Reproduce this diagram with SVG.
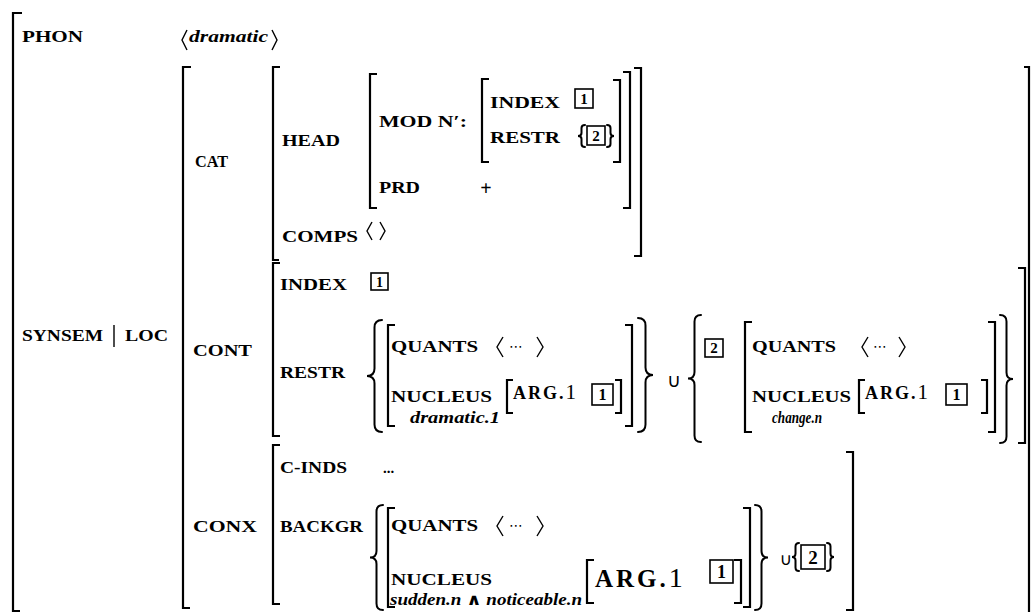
<svg xmlns="http://www.w3.org/2000/svg" width="1031" height="612" viewBox="0 0 1031 612">
<style>
.k{font-family:"Liberation Serif","DejaVu Serif",serif;font-weight:bold;font-size:17px;fill:#000}
.i{font-family:"Liberation Serif","DejaVu Serif",serif;font-weight:bold;font-style:italic;font-size:16px;fill:#000}
.n{font-family:"Liberation Serif","DejaVu Serif",serif;font-weight:bold;fill:#000}
.s{font-family:"DejaVu Sans",sans-serif;fill:#000}
.g{font-family:"Liberation Serif","DejaVu Serif",serif;font-weight:bold;fill:#000}
.b{fill:none;stroke:#000;stroke-width:2.2}
.a{fill:none;stroke:#000;stroke-width:1.4}
.bx{fill:none;stroke:#000;stroke-width:1.6}
.br{fill:none;stroke:#000;stroke-width:2;stroke-linecap:round}
</style>
<rect width="1031" height="612" fill="#fff"/>

<g id="outer">
<path class="b" d="M22,13 H13 V611 H20"/>
<text class="k" x="22" y="42" textLength="61" lengthAdjust="spacingAndGlyphs">PHON</text>
<path class="a" d="M187,30 L182,40 L187,50"/>
<text class="i" x="189" y="42" textLength="79" lengthAdjust="spacingAndGlyphs">dramatic</text>
<path class="a" d="M272,30 L277,40 L272,50"/>
<text class="k" x="22" y="341" textLength="81" lengthAdjust="spacingAndGlyphs">SYNSEM</text>
<path class="a" d="M114,325 V347"/>
<text class="k" x="125" y="341" textLength="43" lengthAdjust="spacingAndGlyphs">LOC</text>
</g>

<g id="loc">
<path class="b" d="M191,67 H183 V608 H190"/>
<path class="b" d="M1024,67 H1029 V612"/>
<text class="k" x="195" y="167" textLength="33" lengthAdjust="spacingAndGlyphs">CAT</text>
<text class="k" x="193" y="356" textLength="59" lengthAdjust="spacingAndGlyphs">CONT</text>
<text class="k" x="193" y="532" textLength="64" lengthAdjust="spacingAndGlyphs">CONX</text>
</g>

<g id="cat">
<path class="b" d="M280,67 H273 V260 H279"/>
<path class="b" d="M634,68 H641 V256 H634"/>
<text class="k" x="282" y="146" textLength="58" lengthAdjust="spacingAndGlyphs">HEAD</text>
<text class="k" x="282" y="242" textLength="76" lengthAdjust="spacingAndGlyphs">COMPS</text>
<path class="a" d="M372,222 L367,231 L372,240"/>
<path class="a" d="M380,222 L385,231 L380,240"/>
</g>

<g id="head">
<path class="b" d="M377,74 H370 V208 H377"/>
<path class="b" d="M623,72 H630 V208 H623"/>
<text class="k" x="379" y="127" textLength="88" lengthAdjust="spacingAndGlyphs">MOD N′:</text>
<text class="k" x="379" y="193" textLength="41" lengthAdjust="spacingAndGlyphs">PRD</text>
<text class="n" x="486" y="195" text-anchor="middle" style="font-size:20px">+</text>
</g>

<g id="mod">
<path class="b" d="M489,79 H482 V162 H489"/>
<path class="b" d="M613,80 H620 V162 H613"/>
<text class="k" x="490" y="108" textLength="70" lengthAdjust="spacingAndGlyphs">INDEX</text>
<rect class="bx" x="575" y="89" width="18" height="19"/>
<text class="n" x="584" y="104" text-anchor="middle" style="font-size:15px">1</text>
<text class="k" x="490" y="143" textLength="70" lengthAdjust="spacingAndGlyphs">RESTR</text>
<path class="br" d="M585,125 Q581.5,125 581.5,128 L581.5,133 Q581.5,136 578,136 Q581.5,136 581.5,139 L581.5,144 Q581.5,147 585,147"/>
<rect class="bx" x="587" y="126" width="18" height="19"/>
<text class="n" x="596" y="141" text-anchor="middle" style="font-size:15px">2</text>
<path class="br" d="M607,125 Q610.5,125 610.5,128 L610.5,133 Q610.5,136 614,136 Q610.5,136 610.5,139 L610.5,144 Q610.5,147 607,147"/>
</g>

<g id="cont">
<path class="b" d="M280,263 H273 V436 H280"/>
<path class="b" d="M1018,268 H1025 V443 H1018"/>
<text class="k" x="280" y="290" textLength="67" lengthAdjust="spacingAndGlyphs">INDEX</text>
<rect class="bx" x="371" y="273" width="17" height="17"/>
<text class="n" x="379.5" y="287" text-anchor="middle" style="font-size:14px">1</text>
<text class="k" x="280" y="378" textLength="65" lengthAdjust="spacingAndGlyphs">RESTR</text>
</g>

<g id="restr-1">
<path class="br" d="M382,320 Q374.5,320 374.5,327.5 L374.5,368.5 Q374.5,376 367,376 Q374.5,376 374.5,383.5 L374.5,424.5 Q374.5,432 382,432"/>
<path class="b" d="M395,325 H388 V426 H395"/>
<path class="b" d="M625,325 H632 V426 H625"/>
<path class="br" d="M638,318 Q645.5,318 645.5,325.5 L645.5,367.5 Q645.5,375 653,375 Q645.5,375 645.5,382.5 L645.5,424.5 Q645.5,432 638,432"/>
<text class="k" x="391" y="352" textLength="87" lengthAdjust="spacingAndGlyphs">QUANTS</text>
<path class="a" d="M503,337 L497,347 L503,357"/>
<text class="s" x="516" y="351" text-anchor="middle" style="font-size:14px">⋯</text>
<path class="a" d="M537,337 L543,347 L537,357"/>
<text class="k" x="391" y="402" textLength="101" lengthAdjust="spacingAndGlyphs">NUCLEUS</text>
<text class="i" x="410" y="423" textLength="90" lengthAdjust="spacingAndGlyphs">dramatic.1</text>
<path class="b" d="M513,380 H507 V413 H513"/>
<text class="g" x="513" y="399" style="font-size:18px;letter-spacing:2px">ARG.<tspan style="font-weight:normal;font-size:21px;letter-spacing:0">1</tspan></text>
<rect class="bx" x="592" y="384" width="21" height="21"/>
<text class="n" x="602.5" y="400" text-anchor="middle" style="font-size:16px">1</text>
<path class="b" d="M615,380 H621 V413 H615"/>
</g>

<text class="s" x="674" y="387" text-anchor="middle" style="font-size:19px">∪</text>

<g id="restr-2">
<path class="br" d="M701,315 Q694.5,315 694.5,321.5 L694.5,372 Q694.5,378.5 688,378.5 Q694.5,378.5 694.5,385 L694.5,435.5 Q694.5,442 701,442"/>
<rect class="bx" x="705" y="339" width="18" height="18"/>
<text class="n" x="714" y="353" text-anchor="middle" style="font-size:15px">2</text>
<path class="b" d="M752,322 H745 V432 H752"/>
<path class="b" d="M988,322 H995 V432 H988"/>
<path class="br" d="M1000,315 Q1006.5,315 1006.5,321.5 L1006.5,372.5 Q1006.5,379 1013,379 Q1006.5,379 1006.5,385.5 L1006.5,436.5 Q1006.5,443 1000,443"/>
<text class="k" x="752" y="352" textLength="84" lengthAdjust="spacingAndGlyphs">QUANTS</text>
<path class="a" d="M868,337 L862,347 L868,357"/>
<text class="s" x="880" y="351" text-anchor="middle" style="font-size:14px">⋯</text>
<path class="a" d="M899,337 L905,347 L899,357"/>
<text class="k" x="752" y="402" textLength="99" lengthAdjust="spacingAndGlyphs">NUCLEUS</text>
<text class="i" x="772" y="423" textLength="50" lengthAdjust="spacingAndGlyphs">change.n</text>
<path class="b" d="M865,380 H859 V413 H865"/>
<text class="g" x="865" y="399" style="font-size:18px;letter-spacing:2px">ARG.<tspan style="font-weight:normal;font-size:21px;letter-spacing:0">1</tspan></text>
<rect class="bx" x="946" y="384" width="21" height="21"/>
<text class="n" x="956.5" y="400" text-anchor="middle" style="font-size:16px">1</text>
<path class="b" d="M981,380 H987 V413 H981"/>
</g>

<g id="conx">
<path class="b" d="M280,445 H273 V604 H280"/>
<path class="b" d="M846,452 H853 V610 H846"/>
<text class="k" x="280" y="473" textLength="67" lengthAdjust="spacingAndGlyphs">C-INDS</text>
<text class="n" x="383" y="473" style="font-size:15px">...</text>
<text class="k" x="280" y="532" textLength="83" lengthAdjust="spacingAndGlyphs">BACKGR</text>
</g>

<g id="backgr">
<path class="br" d="M383,505 Q376.5,505 376.5,511.5 L376.5,551 Q376.5,557.5 370,557.5 Q376.5,557.5 376.5,564 L376.5,603.5 Q376.5,610 383,610"/>
<path class="b" d="M395,508 H388 V607 H395"/>
<path class="b" d="M743,508 H750 V607 H743"/>
<path class="br" d="M755,505 Q761.5,505 761.5,511.5 L761.5,551 Q761.5,557.5 768,557.5 Q761.5,557.5 761.5,564 L761.5,603.5 Q761.5,610 755,610"/>
<text class="k" x="391" y="531" textLength="87" lengthAdjust="spacingAndGlyphs">QUANTS</text>
<path class="a" d="M503,516 L497,526 L503,536"/>
<text class="s" x="516" y="530" text-anchor="middle" style="font-size:14px">⋯</text>
<path class="a" d="M537,516 L543,526 L537,536"/>
<text class="k" x="391" y="585" textLength="101" lengthAdjust="spacingAndGlyphs">NUCLEUS</text>
<text class="i" x="390" y="605" textLength="192" lengthAdjust="spacingAndGlyphs">sudden.n ∧ noticeable.n</text>
<path class="b" d="M594,560 H587 V603 H594"/>
<text class="g" x="595" y="587" style="font-size:25px;letter-spacing:3px">ARG.<tspan style="font-weight:normal;font-size:28px;letter-spacing:0">1</tspan></text>
<rect class="bx" x="710" y="560" width="23" height="23"/>
<text class="n" x="721.5" y="578" text-anchor="middle" style="font-size:18px">1</text>
<path class="b" d="M734,560 H741 V603 H734"/>
<text class="s" x="786" y="565" text-anchor="middle" style="font-size:17px">∪</text>
<path class="br" d="M799,543 Q795.5,543 795.5,546.5 L795.5,553.5 Q795.5,557 792,557 Q795.5,557 795.5,560.5 L795.5,567.5 Q795.5,571 799,571"/>
<rect class="bx" x="801" y="545" width="24" height="24"/>
<text class="n" x="813" y="564" text-anchor="middle" style="font-size:19px">2</text>
<path class="br" d="M827,543 Q830.5,543 830.5,546.5 L830.5,553.5 Q830.5,557 834,557 Q830.5,557 830.5,560.5 L830.5,567.5 Q830.5,571 827,571"/>
</g>
</svg>
